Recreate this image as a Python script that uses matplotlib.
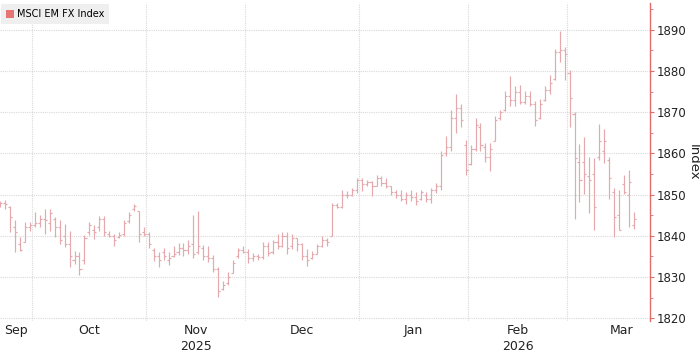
"""
MSCI EM FX Index, daily OHLC bars (Sep 2025 - Mar 2026), Bloomberg-style layout.
"""

import numpy as np
import pandas as pd
import matplotlib

matplotlib.use("Agg")
import matplotlib.pyplot as plt
from matplotlib.patches import Patch
from matplotlib.transforms import blended_transform_factory


# ---- data ----
START_DATE = "2025-09-22"
N_BARS = 129

opens = [
    1848, 1848, 1847, 1842, 1838, 1838.5, 1842, 1842.5, 1843, 1844,
    1843, 1844, 1842, 1840, 1838, 1834, 1835, 1834, 1841, 1841.5,
    1842, 1844, 1840.5, 1840, 1839.6, 1840.5, 1843.5, 1846.5, 1846, 1841,
    1840.5, 1836.5, 1835, 1836, 1834, 1835, 1836, 1837, 1836.5, 1838,
    1836, 1837, 1835, 1834.5, 1832, 1827, 1828.5, 1831, 1835, 1836.5,
    1836, 1834.5, 1835, 1834.8, 1837.5, 1836, 1838.5, 1837.5, 1840, 1837.5,
    1839.5, 1838, 1835, 1834.5, 1835.5, 1837.5, 1839, 1840, 1847.5, 1847,
    1850, 1850, 1851, 1853.5, 1852.5, 1853, 1852, 1854, 1852.8, 1852,
    1850.5, 1850, 1849, 1850, 1849.5, 1849, 1850, 1849, 1851, 1852,
    1860, 1861.5, 1868.5, 1871, 1862, 1857.5, 1861, 1866.5, 1861.5, 1859,
    1863, 1868.5, 1870.5, 1874, 1873, 1875, 1872.5, 1874, 1872, 1868.5,
    1873, 1875.5, 1878, 1884.5, 1885, 1879.5, 1869.5, 1858, 1858, 1854.5,
    1855, 1859, 1860.5, 1858.5, 1850.5, 1845, 1852.5, 1850, 1842.5,
]
highs = [
    1848.5, 1848.7, 1847.3, 1843.7, 1839.6, 1843.3, 1843.3, 1845.7, 1845, 1846.5,
    1846.5, 1844.5, 1843.7, 1842.9, 1841.2, 1836.4, 1836, 1840.2, 1843.4, 1842.5,
    1844.8, 1844.8, 1841.2, 1840.4, 1840.8, 1843.7, 1845.7, 1847.8, 1846, 1842,
    1840.8, 1837, 1836, 1837, 1836, 1837.4, 1838.2, 1838.2, 1839, 1845.1,
    1845.9, 1837.8, 1837.4, 1835.4, 1832.5, 1828.9, 1831.3, 1834.1, 1837, 1837.4,
    1836.7, 1835.9, 1835.5, 1838.4, 1838.4, 1839, 1840.4, 1840.8, 1840.8, 1840.4,
    1839.5, 1838.2, 1836.7, 1836.3, 1838, 1839.9, 1839.5, 1848, 1848, 1851.2,
    1850.8, 1851.6, 1854, 1854, 1853.6, 1853.2, 1854.8, 1854.4, 1854, 1852,
    1851.2, 1851.2, 1850.5, 1851, 1850.5, 1851.1, 1850.7, 1851.5, 1852.8, 1860.5,
    1864.1, 1870.6, 1874.3, 1872, 1863.3, 1862.1, 1868.6, 1867.4, 1862.5, 1862.5,
    1869, 1870.6, 1875.1, 1878.8, 1876.3, 1876.7, 1875.1, 1875.1, 1872.7, 1873.1,
    1876.3, 1878.9, 1885.4, 1889.8, 1885.8, 1880.2, 1870, 1862.3, 1863.9, 1859.2,
    1858.8, 1867.1, 1866, 1859.2, 1851.5, 1851, 1854.7, 1855.9, 1845.8,
]
lows = [
    1847, 1846.5, 1840.8, 1836, 1836.3, 1838.4, 1841.2, 1842, 1842, 1840.4,
    1841.2, 1839.6, 1838, 1837.2, 1832.3, 1833.2, 1830.5, 1833.2, 1840.2, 1839.2,
    1841.2, 1840, 1839.6, 1837.6, 1839.4, 1840, 1843, 1846, 1838.6, 1840,
    1837, 1833.9, 1832.3, 1834, 1833, 1834.8, 1835.4, 1835, 1835.5, 1834.6,
    1835.5, 1834.1, 1833.7, 1831.3, 1825.2, 1826.8, 1828, 1830.9, 1834.6, 1835.8,
    1833.5, 1833.9, 1834.2, 1834.3, 1835, 1835.5, 1836.7, 1837.2, 1835.5, 1836.7,
    1836.3, 1834, 1832.7, 1834.3, 1835.5, 1837.2, 1837.5, 1840, 1846.8, 1846.8,
    1849.2, 1849.6, 1850.4, 1850.8, 1852, 1849.6, 1852, 1852, 1851.5, 1850,
    1849.2, 1848.4, 1847.6, 1848.5, 1847.5, 1848.7, 1848.3, 1847.9, 1850.3, 1851.1,
    1859.3, 1860.5, 1865, 1866.5, 1854.8, 1857.2, 1860.5, 1860.5, 1858, 1855.6,
    1862.9, 1868.2, 1870.2, 1871.5, 1871.5, 1871.9, 1871.9, 1871.5, 1866.6, 1868.3,
    1872.8, 1874.3, 1877.7, 1882.1, 1877.7, 1866.3, 1844.1, 1848.2, 1850.2, 1845.4,
    1841.3, 1858.4, 1857.6, 1849, 1839.7, 1841.3, 1850.2, 1842.1, 1841.7,
]
closes = [
    1848, 1847.8, 1844.6, 1841, 1836.5, 1842, 1842.5, 1843, 1844, 1843.8,
    1845.5, 1842, 1839, 1838, 1835, 1835, 1832, 1839.5, 1842.5, 1841,
    1844, 1841, 1840, 1839, 1840.2, 1843, 1845, 1847.3, 1840.5, 1840.5,
    1838, 1835, 1834, 1835, 1834.5, 1835.5, 1837, 1836.5, 1837.5, 1835.5,
    1837.5, 1835, 1834.5, 1832, 1826.5, 1828, 1830, 1833.5, 1836.5, 1836,
    1834.5, 1835, 1834.8, 1837.5, 1835.8, 1838.5, 1837.5, 1840, 1837, 1839.5,
    1838, 1835, 1834, 1835.5, 1837.5, 1839, 1838.5, 1847.5, 1847, 1850,
    1849.8, 1851, 1853.5, 1852.5, 1853, 1852, 1854, 1852.8, 1852, 1850.5,
    1850, 1849, 1850, 1849.5, 1848.5, 1850.5, 1849, 1851, 1852, 1859.5,
    1861.5, 1868.5, 1871, 1868, 1856, 1861, 1867, 1862, 1859, 1861,
    1868, 1870, 1874, 1873, 1875, 1872.5, 1874, 1872, 1868, 1872,
    1875.5, 1877, 1884.5, 1885, 1884, 1873.5, 1858.8, 1853.5, 1855, 1853.5,
    1847, 1863, 1863, 1853.9, 1844.5, 1841.5, 1850.5, 1853, 1844.1,
]

Y_TICKS = [1820, 1830, 1840, 1850, 1860, 1870, 1880, 1890]
SERIES_NAME = "MSCI EM FX Index"

BAR_COLOR = "#e5a8ad"
LEGEND_COLOR = "#e87575"
AXIS_COLOR = "#e06c6c"
GRID_COLOR = "#d9d9d9"
TEXT_COLOR = "#222222"


def month_layout(dates, x_left):
    """Boundaries and label centres for each month, on the trading-day axis."""
    months = pd.Series(np.arange(len(dates)), index=dates).groupby(
        [dates.year, dates.month]
    )
    boundaries, labels = [], []
    for (year, month), idx in months:
        first = idx.iloc[0]
        month_days = pd.bdate_range(
            pd.Timestamp(year, month, 1),
            pd.Timestamp(year, month, 1) + pd.offsets.MonthEnd(0),
        )
        days_before = (month_days < dates[first]).sum()
        start = first - 0.5 - days_before
        end = start + len(month_days)
        if days_before == 0:
            boundaries.append(start)
        centre = (max(start, x_left) + end) / 2
        labels.append((centre, pd.Timestamp(year, month, 1)))
    return boundaries, labels


def main():
    plt.rcParams["font.family"] = ["DejaVu Sans"]

    dates = pd.bdate_range(START_DATE, periods=N_BARS)
    x = np.arange(N_BARS)

    fig = plt.figure(figsize=(7.0, 3.54), dpi=100)
    ax = fig.add_axes([0.0, (354 - 321) / 354, 650 / 700, 318 / 354])

    x_left, x_right = -0.06, 131.25
    ax.set_xlim(x_left, x_right)
    ax.set_ylim(1819.3, 1896.5)

    # OHLC bars
    tick = 0.42
    ax.vlines(x, lows, highs, color=BAR_COLOR, lw=0.85, zorder=3)
    ax.hlines(opens, x - tick, x, color=BAR_COLOR, lw=0.85, zorder=3)
    ax.hlines(closes, x, x + tick, color=BAR_COLOR, lw=0.85, zorder=3)

    # grid
    boundaries, labels = month_layout(dates, x_left)
    for b in boundaries:
        ax.axvline(b, color=GRID_COLOR, lw=0.8, ls=(0, (1, 1)), zorder=1)
    ax.set_yticks(Y_TICKS)
    ax.set_yticks(np.arange(1825, 1896, 10), minor=True)
    ax.grid(axis="y", which="major", color=GRID_COLOR, lw=0.8, ls=(0, (1, 1)))

    # right axis
    for side in ["top", "left", "bottom"]:
        ax.spines[side].set_visible(False)
    ax.spines["right"].set_color(AXIS_COLOR)
    ax.spines["right"].set_linewidth(1.0)
    ax.yaxis.tick_right()
    ax.yaxis.set_label_position("right")
    ax.tick_params(axis="y", which="major", length=3, width=0.8,
                   color=AXIS_COLOR, labelsize=8.5, labelcolor=TEXT_COLOR,
                   pad=2)
    ax.tick_params(axis="y", which="minor", length=2, width=0.6,
                   color=AXIS_COLOR)
    ax.set_ylabel("Index", rotation=270, fontsize=9.5, color=TEXT_COLOR,
                  va="center")
    ax.yaxis.set_label_coords(1.067, 0.5)

    # month / year labels
    ax.set_xticks([])
    trans = blended_transform_factory(ax.transData, ax.transAxes)
    for centre, month_start in labels:
        ax.annotate(month_start.strftime("%b"), (centre, 0), xycoords=trans,
                    xytext=(0, -7), textcoords="offset points",
                    ha="center", va="center", fontsize=9, color=TEXT_COLOR,
                    annotation_clip=False)
    for year in sorted(set(dates.year)):
        # year label sits under the middle month of that year's span
        year_centres = [c for c, m in labels if m.year == year]
        centre = year_centres[len(year_centres) // 2]
        ax.annotate(str(year), (centre, 0), xycoords=trans,
                    xytext=(0, -18.5), textcoords="offset points",
                    ha="center", va="center", fontsize=9, color=TEXT_COLOR,
                    annotation_clip=False)

    # legend
    handle = Patch(facecolor=LEGEND_COLOR, edgecolor="none", label=SERIES_NAME)
    leg = ax.legend(handles=[handle], loc="upper left", bbox_to_anchor=(0, 1),
                    borderaxespad=0.15, fontsize=7, frameon=True,
                    fancybox=False, handlelength=0.8, handleheight=0.8,
                    handletextpad=0.3, borderpad=0.5)
    leg.get_frame().set_facecolor("#efefef")
    leg.get_frame().set_edgecolor("none")
    leg.get_frame().set_alpha(1.0)

    fig.savefig("out.png", dpi=100)
    plt.close(fig)


if __name__ == "__main__":
    main()
